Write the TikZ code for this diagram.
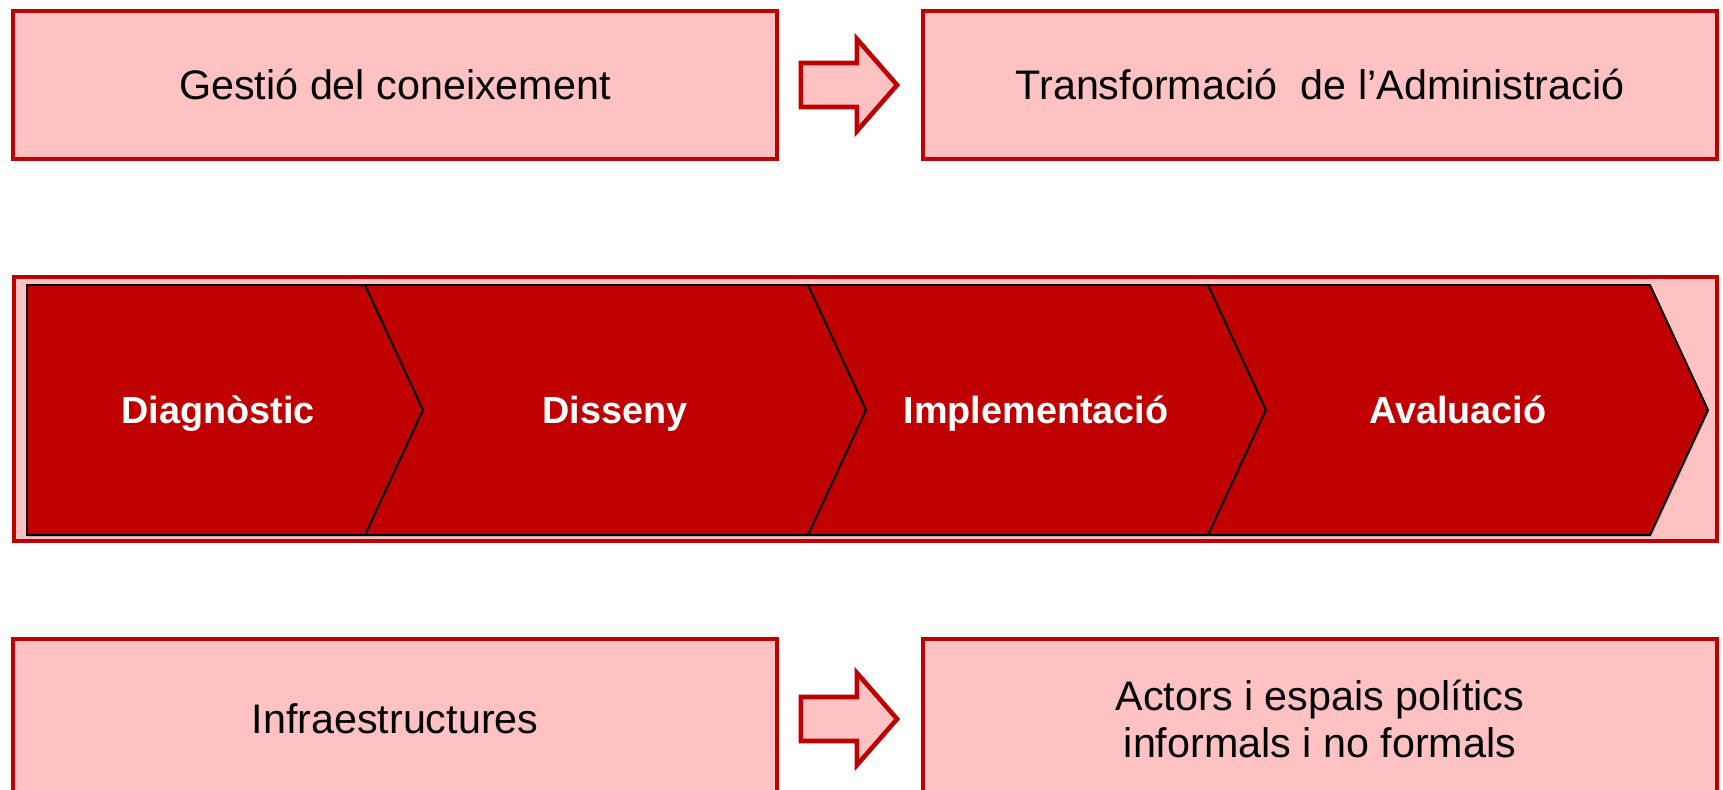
\documentclass[tikz,border=0pt]{standalone}
\usepackage{fontspec}
\setmainfont{Liberation Sans}
\usetikzlibrary{calc,shadows}
\definecolor{boxred}{RGB}{192,0,0}
\definecolor{boxpink}{RGB}{255,194,194}

\newcommand{\blockarrow}[2]{%
  \draw[arrowline] ($(#1.east)+(22,-22)$) -- ($(#1.east)+(78,-22)$)
    -- ($(#1.east)+(78,-46)$) -- ($(#2.west)+(-24,0)$)
    -- ($(#1.east)+(78,46)$) -- ($(#1.east)+(78,22)$)
    -- ($(#1.east)+(22,22)$) -- cycle;}

\begin{document}
\begin{tikzpicture}[x=0.02cm, y=-0.02cm,
    topbox/.style={draw=boxred, fill=boxpink, line width=2.3pt, inner sep=0pt,
        font=\fontsize{23.5}{26.8}\selectfont, align=center},
    arrowline/.style={draw=boxred, fill=boxpink, line width=2.6pt, line join=miter},
    phase/.style={draw=black, fill=boxred, line width=1.1pt, line join=miter,
        drop shadow={shadow xshift=0.6pt, shadow yshift=-1.2pt, opacity=0.45}},
    phaselabel/.style={text=white, anchor=base, font=\bfseries\fontsize{21.5}{26}\selectfont}]

  \clip (0,0) rectangle (1723,790);

  % top row
  \node[topbox, minimum width=15.28cm, minimum height=2.96cm] (gestio) at (395,85) {Gestió del coneixement};
  \node[topbox, minimum width=15.88cm, minimum height=2.96cm] (transf) at (1320,85) {Transformació\ \ de l’Administració};
  \blockarrow{gestio}{transf}

  % cycle of phases
  \draw[boxred, fill=boxpink, line width=2.3pt] (14,277) rectangle (1717,541);
  \draw[phase] (27,285) -- (365,285) -- (423,410) -- (365,535) -- (27,535) -- cycle;
  \foreach \a/\b in {365/808, 808/1208, 1208/1650}
    \draw[phase] (\a,285) -- (\b,285) -- (\b+58,410) -- (\b,535) -- (\a,535) -- (\a+58,410) -- cycle;
  \foreach \x/\name/\txt in {218/diag/Diagnòstic, 615/diss/Disseny, 1036/impl/Implementació, 1458/aval/Avaluació}
    \node[phaselabel] (\name) at (\x,423) {\txt};

  % bottom row
  \node[topbox, minimum width=15.28cm, minimum height=3.2cm] (infra) at (395,719) {Infraestructures};
  \node[topbox, minimum width=15.88cm, minimum height=3.2cm] (actors) at (1320,719) {Actors i espais polítics\\informals i no formals};
  \blockarrow{infra}{actors}
\end{tikzpicture}
\end{document}
